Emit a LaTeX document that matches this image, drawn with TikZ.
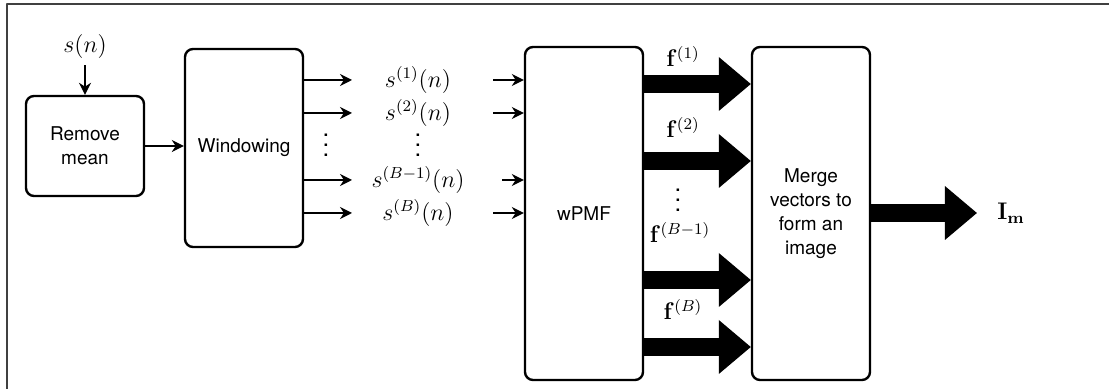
\documentclass[tikz,border=0pt]{standalone}
\usepackage{amsmath,amssymb}
\usepackage[no-math]{fontspec}
\setmainfont{TeX Gyre Heros}
\usetikzlibrary{arrows.meta}

% ba chấm dọc, căn giữa
\newcommand{\cvdots}{\vbox{\baselineskip5pt\lineskiplimit0pt\hbox{.}\hbox{.}\hbox{.}}}

\begin{document}
\begin{tikzpicture}[>={Stealth[length=6pt,width=6pt]}, line join=round, x=0.5pt, y=-0.5pt,
	block/.style={draw, line width=1.2pt, rounded corners=4pt, align=center, inner sep=0pt, font=\fontsize{9.5}{12}\selectfont},
	sig/.style={->, line width=0.7pt},
	fat/.style={line width=9pt, -{Triangle[length=16pt,width=27pt,line width=0pt]}},
	lbl/.style={inner sep=0pt, font=\fontsize{12}{14}\selectfont}]
	\useasboundingbox (0,0) rectangle (1109,389);

	% Khung
	\draw[line width=0.8pt, black!75] (7,389) -- (7,4) -- (1109,4);

	% Các khối
	\node[block, minimum width=59pt, minimum height=50pt] (rm) at (85,146) {Remove\\mean};
	\node[block, minimum width=59pt, minimum height=99pt] (win) at (244,148) {Windowing};
	\node[block, minimum width=59pt, minimum height=166.5pt] (wpmf) at (584,213.5) {wPMF};
	\node[block, minimum width=59pt, minimum height=166.5pt] (merge) at (811,213.5) {Merge\\vectors to\\form an\\image};

	% Tín hiệu vào
	\node[lbl] (sn) at (85,47) {$s(n)$};
	\draw[sig, shorten <=3pt] (sn.south) -- (rm.north);
	\draw[sig] (rm.east) -- (rm.east -| win.west);

	% Các khung tín hiệu
	\foreach \i/\y/\xb/\txt in {1/80/493/{(1)}, 2/113/493/{(2)}, 3/180/502/{(B-1)}, 4/213/493/{(B)}} {
		\node[lbl] (s\i) at (418,\y) {$s^{\txt}(n)$};
		\coordinate (a\i) at (352,\y);
		\coordinate (b\i) at (\xb,\y);
		\draw[sig] (win.east |- s\i) -- (a\i);
		\draw[sig] (b\i) -- (wpmf.west |- b\i);
	}
	\node[lbl] (dw) at (326,145) {\cvdots};
	\node[lbl] (ds) at (418,145) {\cvdots};

	% Các vectơ đặc trưng
	\foreach \i/\y in {1/84, 2/161, 3/280, 4/347}
		\draw[fat] (wpmf.east |- 0,\y) -- (merge.west |- 0,\y);
	\node[lbl, anchor=base] (f1) at (683,67) {$\mathbf{f}^{(1)}$};
	\node[lbl, anchor=base] (f2) at (683,138) {$\mathbf{f}^{(2)}$};
	\node[lbl, anchor=base] (f3) at (680,243) {$\mathbf{f}^{(B-1)}$};
	\node[lbl, anchor=base] (f4) at (683,320) {$\mathbf{f}^{(B)}$};
	\node[lbl] (df) at (678,200) {\cvdots};

	% Ảnh đầu ra
	\node[lbl] (im) at (1011,213) {$\mathbf{I}_{\mathbf{m}}$};
	\draw[fat, shorten >=10pt] (merge.east |- im) -- (im.west);
\end{tikzpicture}
\end{document}
